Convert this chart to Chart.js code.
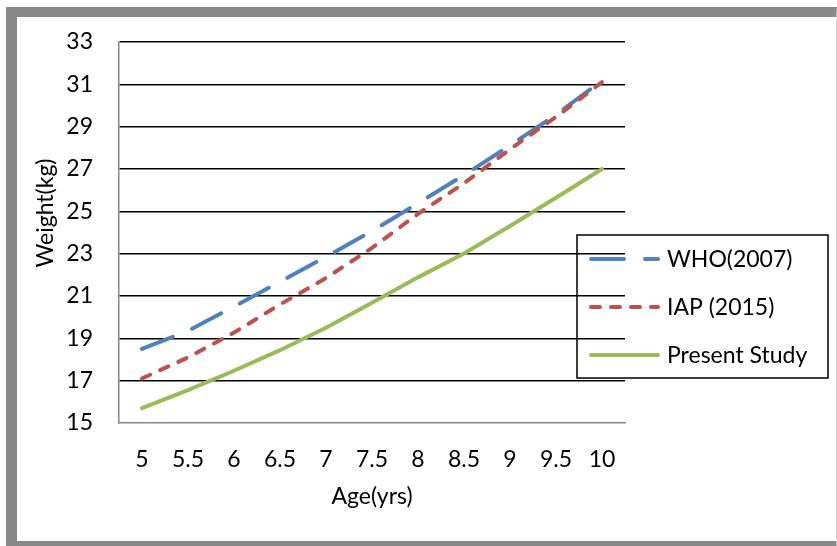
<!DOCTYPE html>
<html>
<head>
<meta charset="utf-8">
<script src="https://cdn.jsdelivr.net/npm/chart.js@4.4.1/dist/chart.umd.min.js"></script>
<style>
  html, body { margin: 0; padding: 0; background: #fff; overflow: hidden; width: 837px; height: 546px; }
  #frame {
    position: absolute; left: 6px; top: 7px; width: 819px; height: 524px;
    border-left: 11px solid #888; border-top: 10px solid #888; border-bottom: 10px solid #888;
    border-right: 1px solid #d6d6d6; background: #fff;
  }
  #chart { position: absolute; left: 0; top: 0; }
</style>
</head>
<body>
<div id="frame"></div>
<canvas id="chart" width="837" height="546"></canvas>
<script>
// Age groups (years)
const ages = ['5', '5.5', '6', '6.5', '7', '7.5', '8', '8.5', '9', '9.5', '10'];

// Median weight (kg) by age
const whoWeights     = [18.5, 19.35, 20.5, 21.67, 22.85, 24.07, 25.38, 26.71, 28.11, 29.57, 31.17];
const iapWeights     = [17.1, 18.1, 19.27, 20.6, 21.85, 23.27, 24.88, 26.33, 27.93, 29.46, 31.1];
const presentWeights = [15.7, 16.55, 17.47, 18.44, 19.5, 20.68, 21.88, 23.01, 24.31, 25.64, 27.0];

// Weight axis ticks
const weightTicks = [15, 17, 19, 21, 23, 25, 27, 29, 31, 33];

const seriesNames = ['WHO(2007)', 'IAP (2015)', 'Present Study'];
const xTitle = 'Age(yrs)';
const yTitle = 'Weight(kg)';

const FONT_FAMILY = 'Lato';
const FONT_SIZE = 23;
const tickFont = { family: FONT_FAMILY, size: FONT_SIZE };

// Axis titles and a boxed legend drawn over the plot
const overlay = {
  id: 'overlay',
  afterDraw(chart) {
    const { ctx, chartArea: a } = chart;
    ctx.save();
    ctx.font = FONT_SIZE + 'px ' + FONT_FAMILY;
    ctx.fillStyle = '#000';
    ctx.textAlign = 'center';
    ctx.textBaseline = 'middle';
    ctx.fillText(xTitle, (a.left + a.right) / 2, 497);
    ctx.save();
    ctx.translate(46, 213);
    ctx.rotate(-Math.PI / 2);
    ctx.fillText(yTitle, 0, 0);
    ctx.restore();

    // legend box
    const box = { x: 577, y: 235, w: 251, h: 143 };
    ctx.lineWidth = 1.5;
    ctx.strokeStyle = '#000';
    ctx.strokeRect(box.x, box.y, box.w, box.h);
    const rows = [259, 307, 355];
    ctx.textAlign = 'left';
    chart.data.datasets.forEach((ds, i) => {
      const y = rows[i];
      ctx.save();
      ctx.strokeStyle = ds.borderColor;
      ctx.lineWidth = ds.borderWidth;
      ctx.lineCap = 'round';
      ctx.setLineDash(ds.borderDash || []);
      ctx.beginPath();
      ctx.moveTo(591, y);
      ctx.lineTo(658, y);
      ctx.stroke();
      ctx.restore();
      ctx.fillText(ds.label, 667, y + 1);
    });
    ctx.restore();
  }
};

new Chart(document.getElementById('chart'), {
  type: 'line',
  data: {
    labels: ages,
    datasets: [
      { label: seriesNames[0], data: whoWeights, borderColor: '#4F81BD', borderWidth: 4,
        borderDash: [33, 21], borderCapStyle: 'round', pointRadius: 0, tension: 0, fill: false, order: 3 },
      { label: seriesNames[1], data: iapWeights, borderColor: '#C0504D', borderWidth: 4,
        borderDash: [9, 11], borderCapStyle: 'round', pointRadius: 0, tension: 0, fill: false, order: 2 },
      { label: seriesNames[2], data: presentWeights, borderColor: '#9BBB59', borderWidth: 4,
        borderCapStyle: 'round', pointRadius: 0, tension: 0, fill: false, order: 1 }
    ]
  },
  options: {
    responsive: false,
    animation: false,
    devicePixelRatio: 1,
    layout: { padding: { left: 17, top: 42, right: 212, bottom: 0 } },
    plugins: { legend: { display: false }, tooltip: { enabled: false } },
    scales: {
      x: {
        offset: true,
        grid: { display: false, drawTicks: false },
        border: { display: true, color: '#868686', width: 1.5 },
        ticks: { font: tickFont, color: '#000', padding: 23, maxRotation: 0, autoSkip: false },
        afterFit(s) { s.height = 123; }
      },
      y: {
        min: 15, max: 33,
        afterBuildTicks(s) { s.ticks = weightTicks.map(v => ({ value: v })); },
        grid: {
          color: c => (c.tick && c.tick.value === 15) ? 'rgba(0,0,0,0)' : '#000',
          lineWidth: 1.5, drawTicks: false
        },
        border: { display: true, color: '#868686', width: 1.5 },
        ticks: { font: tickFont, color: '#000', padding: 26 },
        afterFit(s) { s.width = 102; }
      }
    }
  },
  plugins: [overlay]
});
</script>
</body>
</html>
